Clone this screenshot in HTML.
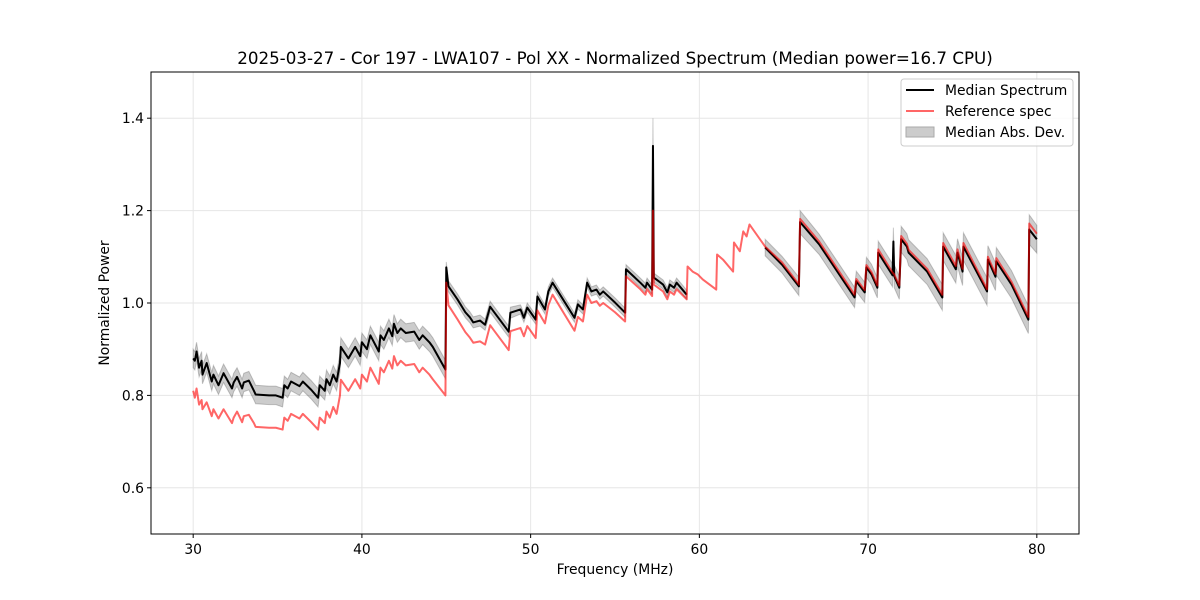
<!DOCTYPE html>
<html><head><meta charset="utf-8"><style>
body{margin:0;background:#fff;}
svg{font-family:"DejaVu Sans","Liberation Sans",sans-serif;display:block}
</style></head><body>
<svg id="chart" width="1200" height="600" viewBox="0 0 1200 600" xmlns="http://www.w3.org/2000/svg">
<rect width="1200" height="600" fill="#fff"/>
<text x="615" y="64" font-size="16.7" text-anchor="middle">2025-03-27 - Cor 197 - LWA107 - Pol XX - Normalized Spectrum (Median power=16.7 CPU)</text>
<g id="grid"></g>
<g id="marks"></g>
<rect x="151" y="72" width="928" height="462" fill="none" stroke="#000" stroke-width="1"/>
<g id="ticks"></g>
<text x="615" y="574" font-size="13.9" text-anchor="middle">Frequency (MHz)</text>
<text transform="translate(109,303) rotate(-90)" font-size="13.9" text-anchor="middle">Normalized Power</text>
<g>
<rect x="901" y="79" width="172" height="67" rx="3" fill="#fff" fill-opacity="0.8" stroke="#ccc"/>
<g><line x1="906" y1="90" x2="934" y2="90" stroke="#000" stroke-width="2"/><text x="945" y="95" font-size="13.9">Median Spectrum</text></g>
<g><line x1="906" y1="111" x2="934" y2="111" stroke="#ff6666" stroke-width="2"/><text x="945" y="116" font-size="13.9">Reference spec</text></g>
<g><rect x="906" y="127" width="28" height="10" fill="#ccc" stroke="#aaa"/><text x="945" y="137" font-size="13.9">Median Abs. Dev.</text></g>
</g>
</svg>
<script>
const xTicks=[30,40,50,60,70,80];
const yTicks=[0.6,0.8,1.0,1.2,1.4];
const medFreq=[30.0,30.1,30.2,30.35,30.5,30.55,30.8,31.1,31.2,31.5,31.8,32.3,32.4,32.6,32.9,33.0,33.3,33.6,33.7,34.5,34.9,35.3,35.4,35.6,35.8,36.3,36.5,37.0,37.4,37.5,37.8,37.9,38.1,38.3,38.5,38.7,38.75,39.2,39.6,39.9,40.0,40.3,40.5,41.0,41.1,41.3,41.6,41.8,41.9,42.1,42.3,42.6,43.1,43.4,43.6,44.0,44.2,44.95,45.0,45.13,45.66,46.13,46.4,46.6,47.0,47.3,47.6,47.8,48.7,48.8,49.4,49.6,49.8,50.3,50.4,50.85,51.05,51.3,52.6,52.8,53.1,53.35,53.6,53.9,54.1,54.3,55.0,55.6,55.65,56.5,56.8,56.9,57.2,57.25,57.3,57.85,58.1,58.25,58.5,58.65,59.25,61.0,63.9,64.9,65.9,65.97,67.1,69.2,69.3,69.8,69.9,70.2,70.55,70.6,71.45,71.5,71.55,71.85,71.96,72.3,72.4,73.5,74.4,74.45,75.2,75.3,75.6,75.65,77.05,77.1,77.55,77.6,78.5,79.5,79.55,80.0];
const medVal=[.880,.875,.895,.860,.875,.845,.870,.830,.845,.822,.848,.815,.828,.840,.815,.828,.832,.810,.802,.800,.800,.795,.822,.815,.830,.820,.830,.812,.795,.822,.810,.835,.822,.845,.830,.870,.905,.880,.905,.885,.915,.900,.930,.895,.930,.920,.945,.928,.955,.935,.945,.935,.938,.920,.930,.915,.905,.856,1.077,1.036,1.008,.980,.969,.958,.962,.953,.992,.982,.938,.979,.986,.968,.990,.964,1.014,.986,1.025,1.044,.968,.997,.986,1.044,1.025,1.029,1.018,1.025,1.001,.979,1.073,1.044,1.033,1.044,1.029,1.340,1.055,1.040,1.023,1.040,1.033,1.044,1.018,null,1.120,1.083,1.036,1.175,1.127,1.012,1.047,1.023,1.077,1.062,1.033,1.109,1.060,1.133,1.058,1.033,1.138,1.122,1.109,1.068,1.012,1.122,1.073,1.109,1.068,1.122,1.025,1.094,1.057,1.090,1.040,.964,1.159,1.138];
const madVal=[.02,.02,.02,.02,.02,.02,.02,.02,.02,.02,.02,.02,.02,.02,.02,.02,.02,.02,.02,.02,.02,.02,.02,.02,.02,.02,.02,.02,.02,.02,.02,.02,.02,.02,.02,.02,.02,.02,.02,.02,.02,.02,.02,.02,.02,.02,.02,.02,.02,.02,.02,.02,.02,.02,.02,.02,.02,.02,.012,.012,.012,.012,.012,.012,.012,.012,.012,.012,.012,.012,.01,.01,.01,.01,.01,.01,.01,.01,.01,.01,.01,.01,.01,.01,.01,.01,.01,.01,.01,.01,.01,.01,.01,.06,.01,.01,.01,.01,.01,.01,.01,null,.018,.018,.02,.025,.022,.022,.022,.022,.022,.022,.022,.025,.025,.03,.025,.025,.028,.028,.028,.028,.028,.03,.03,.03,.03,.03,.03,.03,.03,.03,.03,.03,.032,.03];
const refFreq=[30.0,30.1,30.2,30.35,30.5,30.55,30.8,31.1,31.2,31.5,31.8,32.3,32.4,32.6,32.9,33.0,33.3,33.6,33.7,34.5,34.9,35.3,35.4,35.6,35.8,36.3,36.5,37.0,37.4,37.5,37.8,37.9,38.1,38.3,38.5,38.7,38.75,39.2,39.6,39.9,40.0,40.3,40.5,41.0,41.1,41.3,41.6,41.8,41.9,42.1,42.3,42.6,43.1,43.4,43.6,44.0,44.2,44.95,45.0,45.13,45.66,46.13,46.4,46.6,47.0,47.3,47.6,47.8,48.7,48.8,49.4,49.6,49.8,50.3,50.4,50.85,51.05,51.3,52.6,52.8,53.1,53.35,53.6,53.9,54.1,54.3,55.0,55.6,55.65,56.5,56.8,56.9,57.2,57.25,57.3,57.85,58.1,58.25,58.5,58.65,59.25,59.3,59.6,59.9,60.2,61.0,61.05,61.4,62.0,62.05,62.4,62.6,62.8,62.97,63.9,64.9,65.9,65.97,67.1,69.2,69.3,69.8,69.9,70.2,70.55,70.6,71.45,71.55,71.85,71.96,72.3,72.4,73.5,74.4,74.45,75.2,75.3,75.6,75.65,77.05,77.1,77.55,77.6,78.5,79.5,79.55,80.0];
const refVal=[.810,.795,.815,.780,.790,.770,.785,.755,.770,.750,.770,.740,.752,.765,.742,.755,.758,.740,.732,.730,.730,.726,.752,.745,.760,.750,.760,.742,.726,.752,.740,.765,.752,.775,.760,.800,.834,.810,.835,.815,.845,.830,.860,.825,.860,.850,.875,.858,.885,.865,.875,.865,.868,.850,.860,.845,.835,.800,1.044,.995,.965,.937,.925,.914,.917,.910,.952,.942,.898,.939,.946,.928,.950,.924,.984,.956,.995,1.018,.940,.970,.960,1.018,1.000,1.004,.994,1.000,.980,.960,1.058,1.030,1.018,1.030,1.015,1.200,1.040,1.025,1.008,1.025,1.018,1.030,1.008,1.079,1.068,1.062,1.051,1.029,1.105,1.094,1.068,1.131,1.112,1.155,1.144,1.170,1.122,1.088,1.040,1.182,1.133,1.018,1.052,1.028,1.082,1.067,1.038,1.116,1.066,1.062,1.038,1.145,1.128,1.115,1.074,1.018,1.130,1.080,1.116,1.074,1.130,1.030,1.100,1.063,1.097,1.046,.970,1.172,1.150];

const X0=151,X1=1079,Y0=534,Y1=72,xmin=27.5,xmax=82.5,ymin=0.5,ymax=1.5;
function sx(v){return X0+(v-xmin)/(xmax-xmin)*(X1-X0);}
function sy(v){return Y0-(v-ymin)/(ymax-ymin)*(Y0-Y1);}
const NS="http://www.w3.org/2000/svg";
function mk(tag,attrs,parent){const e=document.createElementNS(NS,tag);for(const k in attrs)e.setAttribute(k,attrs[k]);parent.appendChild(e);return e;}
const grid=document.getElementById('grid'),ticks=document.getElementById('ticks'),marks=document.getElementById('marks');
xTicks.forEach(t=>{const x=sx(t);
 const g=mk('line',{x1:x,x2:x,y1:Y1,y2:Y0,stroke:'#e6e6e6','stroke-width':1},grid);
 
 
 mk('line',{x1:x,x2:x,y1:Y0,y2:Y0+4,stroke:'#000'},ticks);
 const l=mk('text',{x:x,y:Y0+20,'font-size':13.9,'text-anchor':'middle'},ticks);l.textContent=t;
 
 });
yTicks.forEach(t=>{const y=sy(t);
 const g=mk('line',{x1:X0,x2:X1,y1:y,y2:y,stroke:'#e6e6e6','stroke-width':1},grid);
 
 
 mk('line',{x1:X0-4,x2:X0,y1:y,y2:y,stroke:'#000'},ticks);
 const l=mk('text',{x:X0-7,y:y+5,'font-size':13.9,'text-anchor':'end'},ticks);l.textContent=t.toFixed(1);
 
 });
function segments(fr,vals){const segs=[];let cur=[];fr.forEach((f,i)=>{if(vals[i]==null){if(cur.length)segs.push(cur);cur=[];}else cur.push(i);});if(cur.length)segs.push(cur);return segs;}
segments(medFreq,medVal).forEach(seg=>{
 let up=seg.map(i=>sx(medFreq[i])+','+sy(medVal[i]+madVal[i]));
 let dn=seg.slice().reverse().map(i=>sx(medFreq[i])+','+sy(medVal[i]-madVal[i]));
 const p=mk('polygon',{points:up.concat(dn).join(' '),fill:'#000','fill-opacity':0.2,stroke:'#000','stroke-opacity':0.2,'stroke-width':1},marks);
 
 
 const l=mk('polyline',{points:seg.map(i=>sx(medFreq[i])+','+sy(medVal[i])).join(' '),fill:'none',stroke:'#000','stroke-width':2,'stroke-linejoin':'round'},marks);
 
 
});
const r=mk('polyline',{points:refFreq.map((f,i)=>sx(f)+','+sy(refVal[i])).join(' '),fill:'none',stroke:'#ff0000','stroke-opacity':0.6,'stroke-width':2,'stroke-linejoin':'round'},marks);


</script>
</body></html>
